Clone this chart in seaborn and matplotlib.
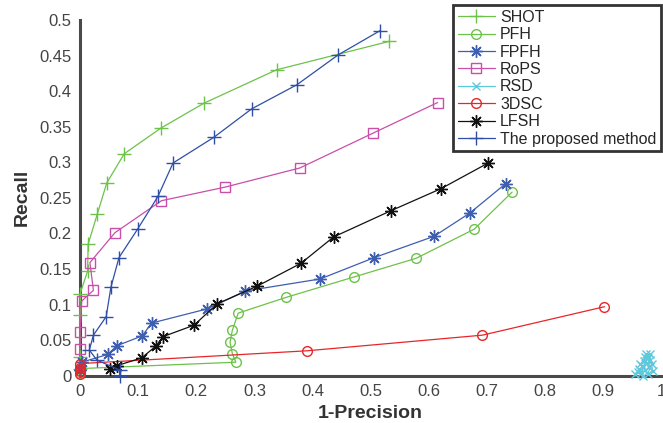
import matplotlib
matplotlib.use("Agg")
import matplotlib.pyplot as plt
import pandas as pd
import seaborn as sns
from matplotlib.ticker import FuncFormatter, MultipleLocator

# ---- data (x = 1-Precision, y = Recall) ----
shot_x = [0.0, 0.0, 0.0, 0.0, 0.013, 0.014, 0.030, 0.046, 0.076, 0.139, 0.213, 0.338, 0.532]
shot_y = [0.010, 0.027, 0.085, 0.115, 0.147, 0.185, 0.228, 0.271, 0.312, 0.348, 0.383, 0.430, 0.470]

pfh_x = [0.0, 0.0, 0.268, 0.262, 0.258, 0.262, 0.272, 0.354, 0.472, 0.578, 0.678, 0.743]
pfh_y = [0.004, 0.010, 0.019, 0.031, 0.047, 0.064, 0.088, 0.110, 0.139, 0.165, 0.206, 0.258]

fpfh_x = [0.0, 0.003, 0.048, 0.063, 0.107, 0.123, 0.219, 0.284, 0.413, 0.506, 0.609, 0.671, 0.732]
fpfh_y = [0.008, 0.019, 0.030, 0.042, 0.056, 0.074, 0.094, 0.119, 0.136, 0.166, 0.196, 0.229, 0.270]

rops_x = [0.0, 0.0, 0.003, 0.023, 0.017, 0.060, 0.140, 0.249, 0.378, 0.504, 0.615]
rops_y = [0.037, 0.061, 0.105, 0.120, 0.159, 0.201, 0.246, 0.265, 0.292, 0.341, 0.384]

rsd_x = [0.955, 0.960, 0.962, 0.965, 0.968, 0.967, 0.972, 0.970, 0.974, 0.972, 0.975,
         0.978, 0.980, 0.983, 0.976, 0.985, 0.980, 0.963, 0.977]
rsd_y = [0.002, 0.005, 0.010, 0.004, 0.000, 0.014, 0.008, 0.020, 0.031, 0.026, 0.018,
         0.012, 0.022, 0.016, 0.002, 0.006, 0.030, 0.016, 0.025]

dsc_x = [0.0, 0.0, 0.0, 0.0, 0.390, 0.692, 0.902]
dsc_y = [0.002, 0.006, 0.011, 0.017, 0.035, 0.057, 0.097]

lfsh_x = [0.052, 0.063, 0.106, 0.131, 0.143, 0.196, 0.236, 0.305, 0.380, 0.436, 0.535, 0.621, 0.702]
lfsh_y = [0.009, 0.014, 0.025, 0.042, 0.055, 0.071, 0.101, 0.126, 0.158, 0.195, 0.232, 0.263, 0.299]

prop_x = [0.068, 0.068, 0.029, 0.016, 0.023, 0.045, 0.053, 0.067, 0.099, 0.134, 0.160, 0.230,
          0.295, 0.373, 0.444, 0.516]
prop_y = [0.000, 0.008, 0.022, 0.036, 0.057, 0.083, 0.124, 0.166, 0.206, 0.252, 0.299, 0.335,
          0.375, 0.409, 0.451, 0.485]

methods = ["SHOT", "PFH", "FPFH", "RoPS", "RSD", "3DSC", "LFSH", "The proposed method"]
xs = [shot_x, pfh_x, fpfh_x, rops_x, rsd_x, dsc_x, lfsh_x, prop_x]
ys = [shot_y, pfh_y, fpfh_y, rops_y, rsd_y, dsc_y, lfsh_y, prop_y]

# MATLAB-like asterisk: 8 spokes
asterisk = (8, 2, 0)
styles = {
    "SHOT": dict(color="#6cc24a", marker="+", ms=10),
    "PFH": dict(color="#6cc24a", marker="o", ms=7),
    "FPFH": dict(color="#3e5eb0", marker=asterisk, ms=9),
    "RoPS": dict(color="#c94fa8", marker="s", ms=6.5),
    "RSD": dict(color="#5ec8dc", marker="x", ms=6),
    "3DSC": dict(color="#e8262a", marker="o", ms=7),
    "LFSH": dict(color="#111111", marker=asterisk, ms=9),
    "The proposed method": dict(color="#2f4fa5", marker="+", ms=10),
}

frames = []
for name, x, y in zip(methods, xs, ys):
    frames.append(pd.DataFrame({"method": name, "fp": x, "recall": y}))
df = pd.concat(frames, ignore_index=True)

sns.set_style("white")
plt.rcParams["font.family"] = ["Liberation Sans", "DejaVu Sans"]

fig = plt.figure(figsize=(6.63, 4.23), dpi=100)
ax = fig.add_axes([0.1207, 0.1118, 0.877, 0.8409])

for name in methods:
    st = styles[name]
    sub = df[df["method"] == name]
    sns.lineplot(data=sub, x="fp", y="recall", sort=False, estimator=None, ax=ax,
                 color=st["color"], marker=st["marker"], markersize=st["ms"],
                 markerfacecolor="none", markeredgecolor=st["color"],
                 markeredgewidth=1.0, linewidth=0.9, label=name, clip_on=False, zorder=3)

ax.set_xlim(0, 1)
ax.set_ylim(0, 0.5)
ax.xaxis.set_major_locator(MultipleLocator(0.1))
ax.yaxis.set_major_locator(MultipleLocator(0.05))
fmt = FuncFormatter(lambda v, p: f"{v:.2f}".rstrip("0").rstrip(".") if v else "0")
ax.xaxis.set_major_formatter(fmt)
ax.yaxis.set_major_formatter(fmt)

for side in ["top", "right"]:
    ax.spines[side].set_visible(False)
for side in ["left", "bottom"]:
    ax.spines[side].set_color("#4a4a4a")
    ax.spines[side].set_linewidth(2.2)
ax.tick_params(direction="in", length=5, width=2.2, color="#4a4a4a",
               labelsize=12, labelcolor="#444444", pad=6)

ax.set_xlabel("1-Precision", fontsize=14, fontweight="bold", color="#333333", labelpad=4)
ax.set_ylabel("Recall", fontsize=14, fontweight="bold", color="#333333", labelpad=6)

leg = ax.legend(loc="upper left", bbox_to_anchor=(453 / 663, 1 - 5 / 423),
                bbox_transform=fig.transFigure, borderaxespad=0, fontsize=11.5,
                handlelength=2.3, labelspacing=0.15, borderpad=0.3, handletextpad=0.35,
                fancybox=False, framealpha=1)
leg.get_frame().set_edgecolor("#333333")
leg.get_frame().set_linewidth(2)

fig.savefig("out.png", dpi=100)
